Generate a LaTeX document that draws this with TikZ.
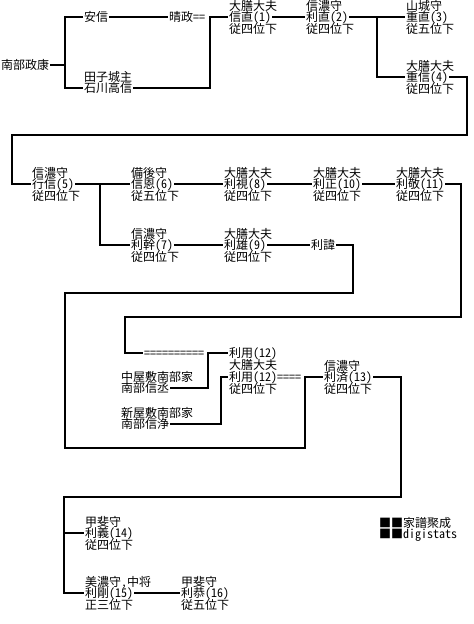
\documentclass[tikz,border=0pt]{standalone}
\usepackage{fontspec}
\setmainfont{Noto Sans CJK JP}[RawFeature=+hwid]
\tikzset{
  nm/.style={anchor=west,inner xsep=0.6pt,inner ysep=0pt,text height=7.9pt,text depth=1.1pt,font=\fontsize{9pt}{9pt}\selectfont},
  ln/.style={line width=1.6pt,line join=miter}
}
\newcommand\person[6]{%
  \node[nm] (#1) at (#2,#3) {#5};
  \path (#1.west) ++(0,-11.5) node[nm] (#1t) {#4};
  \path (#1.west) ++(0,11.5) node[nm] (#1r) {#6};
}
\begin{document}
\begin{tikzpicture}[x=0.75pt,y=-0.75pt]
\useasboundingbox (0,0) rectangle (474,624);
% row A
\node[nm] (p0) at (0,65) {南部政康};
\node[nm] (ansh) at (83,17) {安信};
\node[nm] (hr) at (168,17) {晴政==};
\node[nm] (tkn) at (83,88) {石川高信};
\path (tkn.west) ++(0,-11) node[nm] (tknt) {田子城主};
\person{n1}{228}{17}{大膳大夫}{信直(1)}{従四位下}
\person{n2}{305}{17}{信濃守}{利直(2)}{従四位下}
\person{n3}{405}{17}{山城守}{重直(3)}{従五位下}
\person{n4}{405}{77}{大膳大夫}{重信(4)}{従四位下}
% row B
\person{n5}{31}{184}{信濃守}{行信(5)}{従四位下}
\person{n6}{130}{184}{備後守}{信恩(6)}{従五位下}
\person{n7}{130}{245}{信濃守}{利幹(7)}{従四位下}
\person{n8}{223}{184}{大膳大夫}{利視(8)}{従四位下}
\person{n9}{223}{245}{大膳大夫}{利雄(9)}{従四位下}
\person{n10}{312}{184}{大膳大夫}{利正(10)}{従四位下}
\person{n11}{395}{184}{大膳大夫}{利敬(11)}{従四位下}
\node[nm] (nk) at (310,245) {利諱};
% middle
\node[nm] (eq) at (143,353) {==========};
\node[nm] (u1) at (228,353) {利用(12)};
\node[nm] (u2) at (228,365) {大膳大夫};
\node[nm] (u3) at (228,377) {利用(12)====};
\node[nm] (u4) at (228,389) {従四位下};
\node[nm] (sjt) at (120,377) {中屋敷南部家};
\node[nm] (sj) at (120,388) {南部信丞};
\node[nm] (sjot) at (120,413) {新屋敷南部家};
\node[nm] (sjo) at (120,424) {南部信浄};
\person{n13}{323}{377}{信濃守}{利済(13)}{従四位下}
% bottom
\person{n14}{84}{533}{甲斐守}{利義(14)}{従四位下}
\person{n15}{84}{593}{美濃守,中将}{利剛(15)}{正三位下}
\person{n16}{180}{593}{甲斐守}{利恭(16)}{従五位下}
\node[nm] (lg1) at (378,523) {■■家譜聚成};
\node[nm] (lg2) at (378,534) {■■digistats};
% coordinates
\coordinate (j1) at (65,65);
\coordinate (j2) at (210,17);
\coordinate (j3) at (377,17);
\coordinate (k1) at (467,135);
\coordinate (k2) at (12,135);
\coordinate (j4) at (100,184);
\coordinate (k3) at (353,293);
\coordinate (k4) at (65,293);
\coordinate (k5) at (65,448);
\coordinate (k6) at (305,448);
\coordinate (k7) at (461,317);
\coordinate (k8) at (125,317);
\coordinate (j5) at (208,353);
\coordinate (j6) at (221,377);
\coordinate (k9) at (401,497);
\coordinate (k10) at (64,497);
\coordinate (j8) at (64,533);
% connectors
\draw[ln] (p0.east) -- (j1);
\draw[ln] (ansh.west) -| (j1) |- (tkn.west);
\draw[ln] (ansh.east) -- (hr.west);
\draw[ln] (tkn.east) -| (j2) -- (n1.west);
\draw[ln] (n1.east) -- (n2.west);
\draw[ln] (n2.east) -- (n3.west);
\draw[ln] (j3) |- (n4.west);
\draw[ln] (n4.east) -| (k1) -- (k2) |- (n5.west);
\draw[ln] (n5.east) -- (n6.west);
\draw[ln] (j4) |- (n7.west);
\draw[ln] (n6.east) -- (n8.west);
\draw[ln] (n8.east) -- (n10.west);
\draw[ln] (n10.east) -- (n11.west);
\draw[ln] (n7.east) -- (n9.west);
\draw[ln] (n9.east) -- (nk.west);
\draw[ln] (nk.east) -| (k3) -- (k4) -- (k5) -- (k6) |- (n13.west);
\draw[ln] (n11.east) -| (k7) -- (k8) |- (eq.west);
\draw[ln] (sj.east) -| (j5) -- (u1.west);
\draw[ln] (sjo.east) -| (j6) -- (u3.west);
\draw[ln] (n13.east) -| (k9) -- (k10) |- (n15.west);
\draw[ln] (j8) -- (n14.west);
\draw[ln] (n15.east) -- (n16.west);
\end{tikzpicture}
\end{document}
